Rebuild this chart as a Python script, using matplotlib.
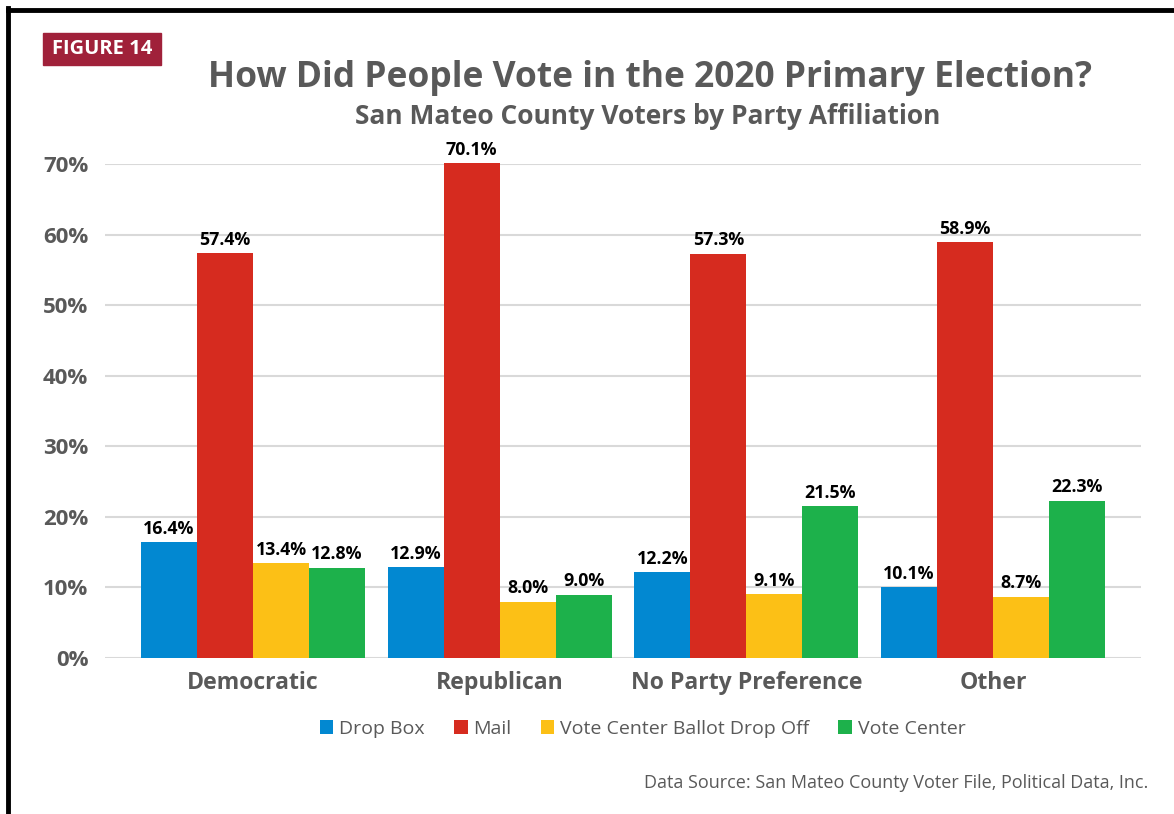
import numpy as np
import matplotlib.pyplot as plt
from matplotlib.patches import Rectangle

parties = ["Democratic", "Republican", "No Party Preference", "Other"]
methods = ["Drop Box", "Mail", "Vote Center Ballot Drop Off", "Vote Center"]
drop_box = [16.4, 12.9, 12.2, 10.1]
mail = [57.4, 70.1, 57.3, 58.9]
ballot_drop_off = [13.4, 8.0, 9.1, 8.7]
vote_center = [12.8, 9.0, 21.5, 22.3]

colors = ["#0288D1", "#D62B1F", "#FCC016", "#1DB14B"]
gray = "#595959"
plt.rcParams['font.family'] = ['Open Sans', 'DejaVu Sans']


def draw_bar():
    fig = plt.figure(figsize=(11.74, 8.14), dpi=100)
    ax = fig.add_axes([0.0894, 0.1916, 0.8825, 0.6069])

    width = 0.227
    ind = np.arange(len(parties))
    series = [drop_box, mail, ballot_drop_off, vote_center]
    for i, vals in enumerate(series):
        rects = ax.bar(ind + (i - 1.5) * width, vals, width, color=colors[i],
                       label=methods[i], zorder=3, clip_on=False)
        for r, v in zip(rects, vals):
            ax.text(r.get_x() + r.get_width() / 2., v + 0.6, '%.1f%%' % v,
                    ha='center', va='bottom', fontsize=12.8,
                    fontweight='bold', color='black')

    ax.set_xlim(-0.6, 3.6)
    ax.set_ylim(0, 70)
    ax.set_yticks(np.arange(0, 71, 10))
    ax.set_yticklabels(['%d%%' % t for t in range(0, 71, 10)])
    ax.set_xticks(ind)
    ax.set_xticklabels(parties)
    ax.tick_params(axis='y', length=0, pad=12, labelsize=16, labelcolor=gray)
    ax.tick_params(axis='x', length=0, pad=9, labelsize=16.6, labelcolor=gray)
    for lbl in ax.get_xticklabels() + ax.get_yticklabels():
        lbl.set_fontweight('bold')
    ax.grid(axis='y', color='#D9D9D9', lw=1.5, zorder=0)
    for s in ax.spines.values():
        s.set_visible(False)

    ax.legend(loc='center', bbox_to_anchor=(0.519, -0.143), ncol=4,
              frameon=False, fontsize=14, labelcolor=gray, handlelength=0.7,
              handleheight=0.7, handletextpad=0.3, columnspacing=1.5)

    # frame lines along left and top edge
    fig.add_artist(plt.Line2D([0.0072, 0.0072], [0, 0.99], color='black',
                              lw=3.5, transform=fig.transFigure))
    fig.add_artist(plt.Line2D([0.0072, 1.0], [0.9877, 0.9877], color='black',
                              lw=3.5, transform=fig.transFigure))

    fig.add_artist(Rectangle((43 / 1174, 1 - 65 / 814), 118 / 1174, 32 / 814,
                             color='#A0213A', transform=fig.transFigure))
    fig.text(102 / 1174, 1 - 49 / 814, 'FIGURE 14', ha='center', va='center',
             color='white', fontsize=14.5, fontweight='bold')

    fig.text(650 / 1174, 1 - 78 / 814,
             'How Did People Vote in the 2020 Primary Election?',
             ha='center', va='center', color=gray, fontsize=25.5,
             fontweight='bold')
    fig.text(648 / 1174, 1 - 116 / 814,
             'San Mateo County Voters by Party Affiliation',
             ha='center', va='center', color=gray, fontsize=19,
             fontweight='bold')
    fig.text(1148 / 1174, 1 - 783 / 814,
             'Data Source: San Mateo County Voter File, Political Data, Inc.',
             ha='right', va='center', color=gray, fontsize=13)

    plt.savefig('out.png', dpi=100)


if __name__ == '__main__':
    draw_bar()
